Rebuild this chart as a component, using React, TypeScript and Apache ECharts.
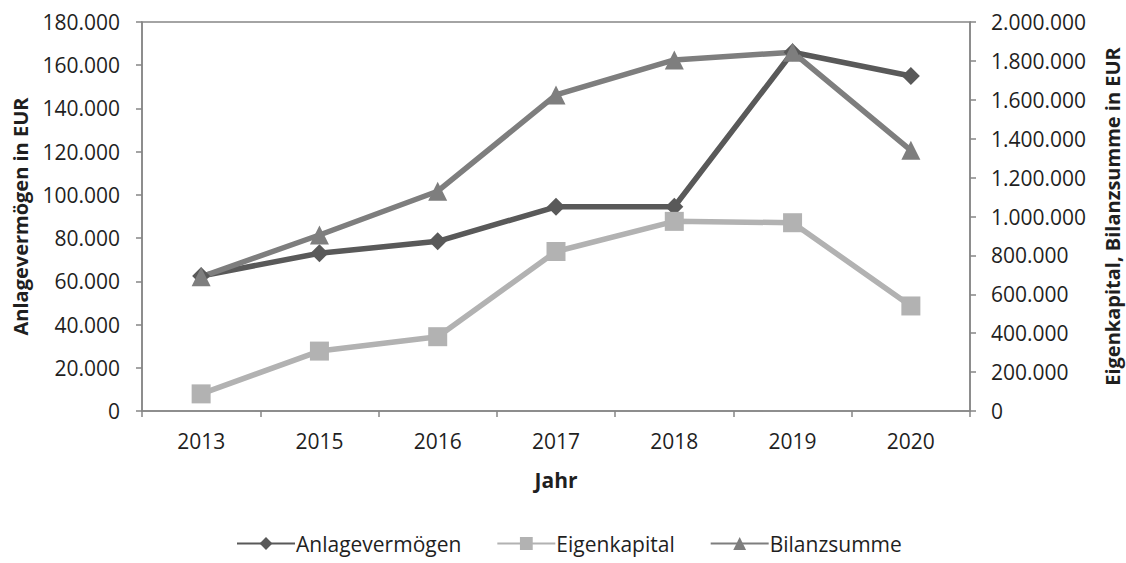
import React, { useEffect, useRef } from "react";
import * as echarts from "echarts";

const years = ["2013", "2015", "2016", "2017", "2018", "2019", "2020"];
const anlagevermoegen = [62500, 73000, 78500, 94500, 94500, 166000, 155000];
const eigenkapital = [88000, 308000, 382000, 820000, 975000, 968000, 540000];
const bilanzsumme = [690000, 905000, 1130000, 1625000, 1805000, 1845000, 1340000];

const FONT = "Open Sans";
const fmt = (v: number) => String(Math.round(v)).replace(/\B(?=(\d{3})+(?!\d))/g, ".");

export default function App() {
  const ref = useRef<HTMLDivElement>(null);
  useEffect(() => {
    const chart = echarts.init(ref.current!, null, { renderer: "svg" });
    const axisColor = "#868686";
    const labelStyle = { color: "#1f1f1f", fontFamily: FONT, fontSize: 21 };
    chart.setOption({
      animation: false,
      backgroundColor: "#ffffff",
      textStyle: { fontFamily: FONT },
      grid: {
        left: 142,
        right: 156,
        top: 22,
        bottom: 152,
        show: true,
        borderColor: axisColor,
        borderWidth: 1.5,
        containLabel: false,
        outerBoundsMode: "none",
      },
      legend: {
        bottom: 4,
        left: 231,
        itemWidth: 58,
        itemHeight: 16,
        itemGap: 35,
        textStyle: { ...labelStyle, fontSize: 21, padding: [0, 0, 0, -4] },
        data: ["Anlagevermögen", "Eigenkapital", "Bilanzsumme"],
      },
      xAxis: {
        type: "category",
        data: years,
        boundaryGap: true,
        name: "Jahr",
        nameLocation: "middle",
        nameGap: 58,
        nameTextStyle: { ...labelStyle, fontWeight: "bold", fontSize: 21 },
        axisLine: { lineStyle: { color: axisColor, width: 1.5 } },
        axisTick: { show: true, length: 6, inside: false, lineStyle: { color: axisColor, width: 1.5 } },
        axisLabel: { ...labelStyle, margin: 19 },
      },
      yAxis: [
        {
          type: "value",
          min: 0,
          max: 180000,
          interval: 20000,
          name: "Anlagevermögen in EUR",
          nameLocation: "middle",
          nameGap: 112,
          nameRotate: 90,
          nameTextStyle: { ...labelStyle, fontWeight: "bold", fontSize: 20 },
          axisLine: { show: true, lineStyle: { color: axisColor, width: 1.5 } },
          axisTick: { show: true, length: 6, lineStyle: { color: axisColor, width: 1.5 } },
          splitLine: { show: false },
          axisLabel: { ...labelStyle, margin: 22, formatter: fmt },
        },
        {
          type: "value",
          min: 0,
          max: 2000000,
          interval: 200000,
          position: "right",
          name: "Eigenkapital, Bilanzsumme in EUR",
          nameLocation: "middle",
          nameGap: 131,
          nameRotate: 90,
          nameTextStyle: { ...labelStyle, fontWeight: "bold", fontSize: 20, lineHeight: 22 },
          axisLine: { show: true, lineStyle: { color: axisColor, width: 1.5 } },
          axisTick: { show: true, length: 6, lineStyle: { color: axisColor, width: 1.5 } },
          splitLine: { show: false },
          axisLabel: { ...labelStyle, margin: 21, formatter: fmt },
        },
      ],
      series: [
        {
          name: "Anlagevermögen",
          type: "line",
          yAxisIndex: 0,
          data: anlagevermoegen,
          symbol: "diamond",
          symbolSize: 18,
          itemStyle: { color: "#595959" },
          lineStyle: { color: "#595959", width: 5.5 },
        },
        {
          name: "Eigenkapital",
          type: "line",
          yAxisIndex: 1,
          data: eigenkapital,
          symbol: "rect",
          symbolSize: 19,
          itemStyle: { color: "#b2b2b2" },
          lineStyle: { color: "#b2b2b2", width: 5.5 },
        },
        {
          name: "Bilanzsumme",
          type: "line",
          yAxisIndex: 1,
          data: bilanzsumme,
          symbol: "triangle",
          symbolSize: 19,
          itemStyle: { color: "#7e7e7e" },
          lineStyle: { color: "#7e7e7e", width: 5.5 },
        },
      ],
    });
    return () => chart.dispose();
  }, []);
  return <div ref={ref} style={{ width: 1126, height: 563, position: "absolute", left: 0, top: 0 }} />;
}
